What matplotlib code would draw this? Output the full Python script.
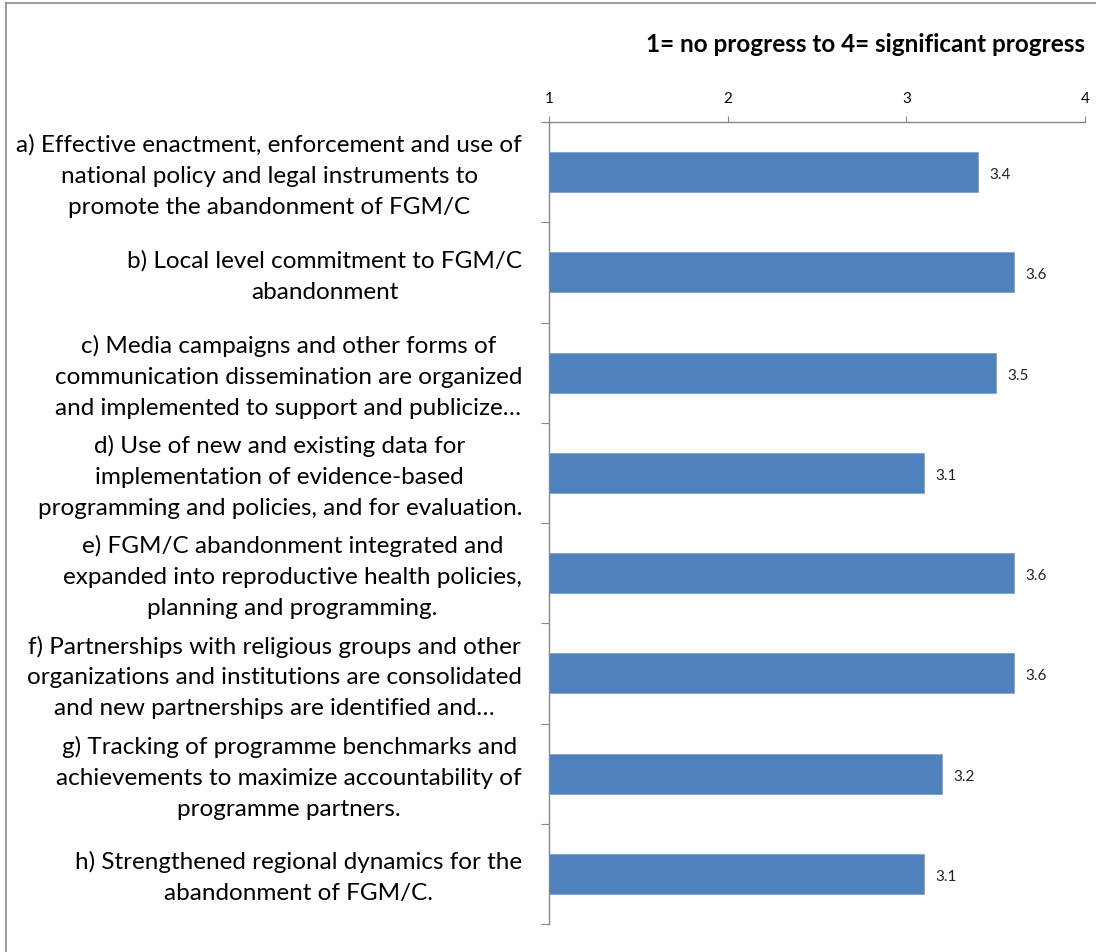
import matplotlib
matplotlib.use("Agg")
import matplotlib.pyplot as plt
from matplotlib.lines import Line2D
import matplotlib.transforms as mtransforms

categories = [
    "a) Effective enactment, enforcement and use of\nnational policy and legal instruments to\npromote the abandonment of FGM/C",
    "b) Local level commitment to FGM/C\nabandonment",
    "c) Media campaigns and other forms of\ncommunication dissemination are organized\nand implemented to support and publicize\u2026",
    "d) Use of new and existing data for\nimplementation of evidence-based\nprogramming and policies, and for evaluation.",
    "e) FGM/C abandonment integrated and\nexpanded into reproductive health policies,\nplanning and programming.",
    "f) Partnerships with religious groups and other\norganizations and institutions are consolidated\nand new partnerships are identified and\u2026",
    "g) Tracking of programme benchmarks and\nachievements to maximize accountability of\nprogramme partners.",
    "h) Strengthened regional dynamics for the\nabandonment of FGM/C.",
]
values = [3.4, 3.6, 3.5, 3.1, 3.6, 3.6, 3.2, 3.1]
xticks = [1, 2, 3, 4]
title = "1= no progress to 4= significant progress"

plt.rcParams['font.family'] = ['Lato', 'DejaVu Sans']

fig = plt.figure(figsize=(10.96, 9.53), dpi=100)
ax = fig.add_axes([549/1096, 1-925/953, (1085-549)/1096, (925-123)/953])

n = len(values)
ypos = list(range(n))
ax.barh(ypos, [v - 1 for v in values], left=1, height=0.4, color='#4F81BD',
        edgecolor='#7FA3D3', linewidth=0.6)
ax.set_xlim(1, 4)
ax.set_ylim(n - 0.5, -0.5)

for y, v in zip(ypos, values):
    ax.text(v + 0.065, y + 0.02, f"{v:.1f}", va='center', ha='left', fontsize=11, color='#222222')

gray = '#868686'
ax.xaxis.tick_top()
ax.set_xticks(xticks)
ax.set_xticklabels([str(t) for t in xticks], fontsize=11)
ax.tick_params(axis='x', direction='out', length=4, color=gray, pad=8)
ax.set_yticks([i - 0.5 for i in range(n + 1)])
ax.set_yticklabels([])
ax.tick_params(axis='y', direction='out', length=6, color=gray)

trans = mtransforms.blended_transform_factory(ax.transAxes, ax.transData)
for y, lab in zip(ypos, categories):
    ax.text(-27/536, y + 0.03, lab, transform=trans, ha='right', va='center',
            multialignment='center', fontsize=17.5, linespacing=1.58,
            color='black')

for s in ['right', 'bottom']:
    ax.spines[s].set_visible(False)
for s in ['left', 'top']:
    ax.spines[s].set_color(gray)
    ax.spines[s].set_linewidth(1)

fig.text(1085/1096, 1-45/953, title, ha='right', va='center', fontsize=17.5,
         fontweight='bold')

fig.add_artist(Line2D([6/1096, 6/1096], [0, 1-4/953], transform=fig.transFigure,
                      color='#8c8c8c', linewidth=1.2))
fig.add_artist(Line2D([6/1096, 1], [1-4/953, 1-4/953], transform=fig.transFigure,
                      color='#8c8c8c', linewidth=1.2))

fig.savefig("out.png", dpi=100)
